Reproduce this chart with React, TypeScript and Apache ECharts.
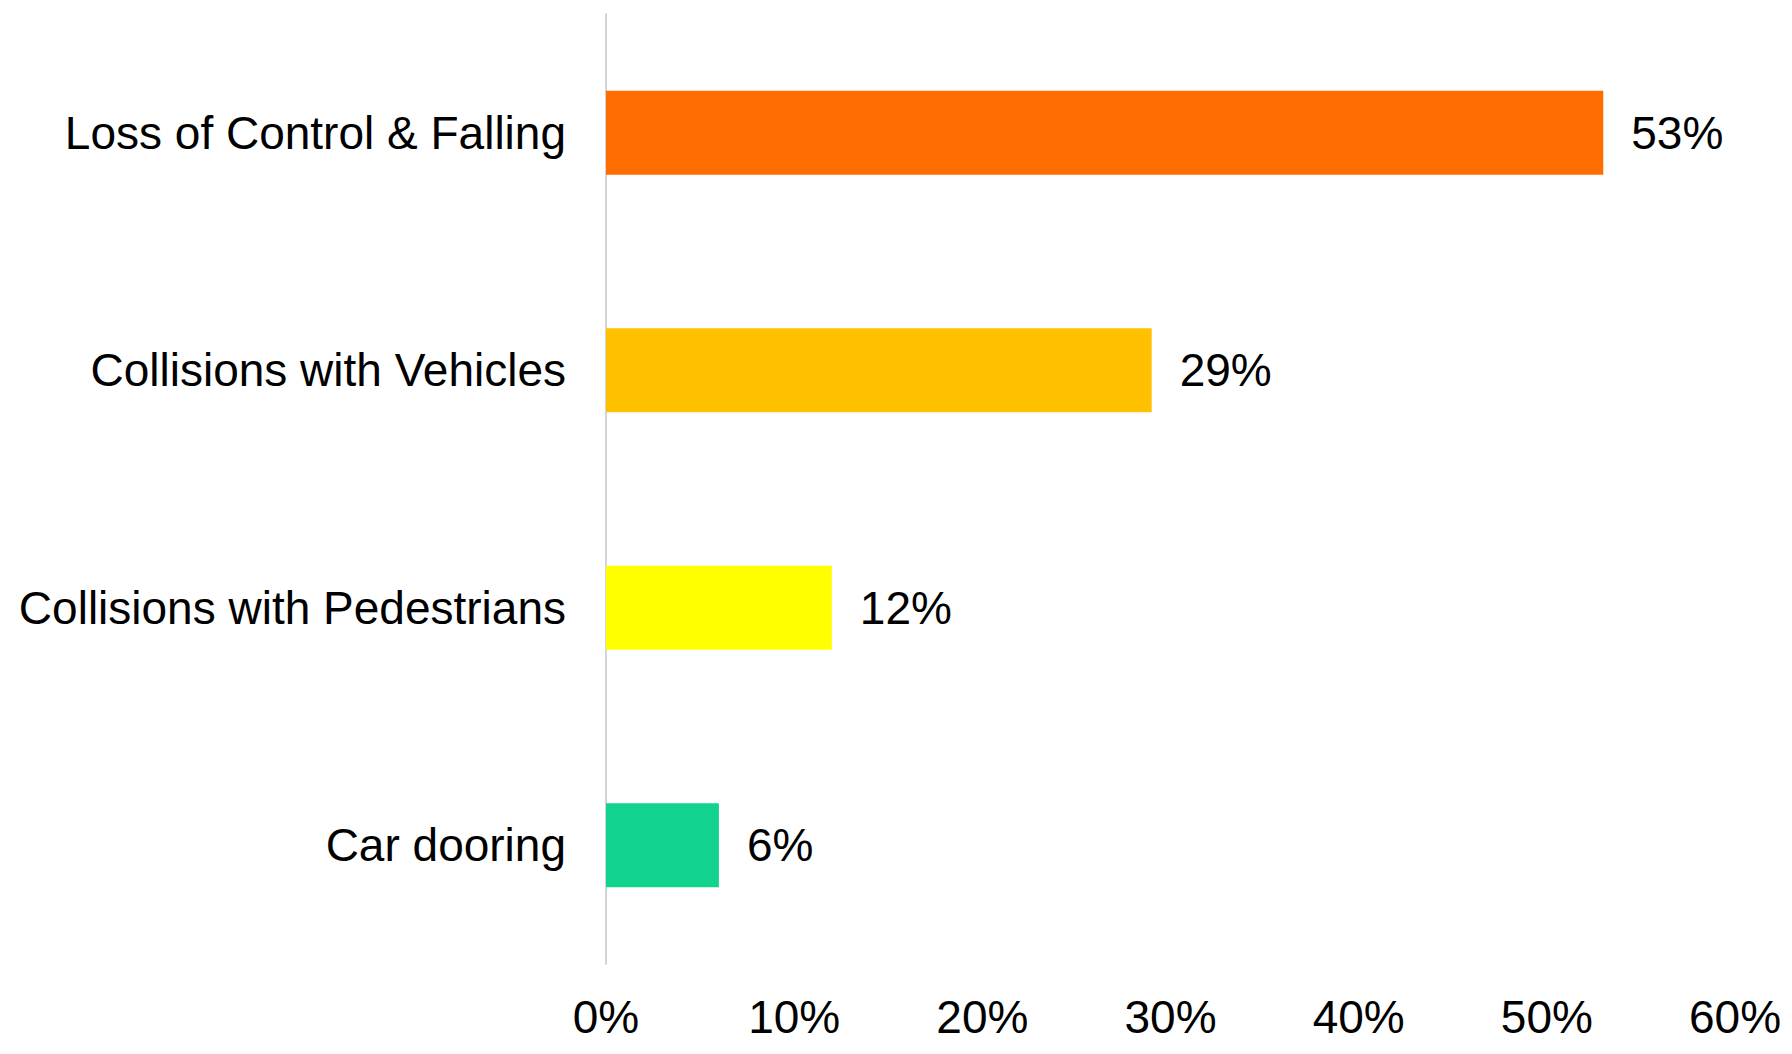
import React, { useEffect, useRef } from "react";
import * as echarts from "echarts";

const categories = [
  "Loss of Control & Falling",
  "Collisions with Vehicles",
  "Collisions with Pedestrians",
  "Car dooring",
];
const values = [53, 29, 12, 6];
const barColors = ["#FF6D00", "#FFC000", "#FFFF00", "#12D38E"];
const xTicks = { min: 0, max: 60, interval: 10 };

export default function App() {
  const ref = useRef<HTMLDivElement>(null);
  useEffect(() => {
    document.body.style.margin = "0";
    const chart = echarts.init(ref.current!, null, { renderer: "svg" });
    const font = "'Liberation Sans', Arial, sans-serif";
    chart.setOption({
      animation: false,
      backgroundColor: "#ffffff",
      grid: { left: 606, top: 14, width: 1129, height: 950, containLabel: false },
      xAxis: {
        type: "value",
        min: xTicks.min,
        max: xTicks.max,
        interval: xTicks.interval,
        axisLine: { show: false },
        axisTick: { show: false },
        splitLine: { show: false },
        axisLabel: {
          formatter: "{value}%",
          fontSize: 46,
          fontFamily: font,
          color: "#000",
          margin: 30,
        },
      },
      yAxis: {
        type: "category",
        inverse: true,
        data: categories,
        axisLine: { show: true, lineStyle: { color: "#d4d4d4", width: 2 } },
        axisTick: { show: false },
        axisLabel: { fontSize: 46, fontFamily: font, color: "#000", margin: 40 },
      },
      series: [
        {
          type: "bar",
          barWidth: 84,
          data: values.map((v, i) => ({ value: v, itemStyle: { color: barColors[i] } })),
          label: {
            show: true,
            position: "right",
            distance: 28,
            formatter: "{c}%",
            fontSize: 46,
            fontFamily: font,
            color: "#000",
          },
        },
      ],
    });
    return () => chart.dispose();
  }, []);
  return <div ref={ref} style={{ width: 1792, height: 1054 }} />;
}
